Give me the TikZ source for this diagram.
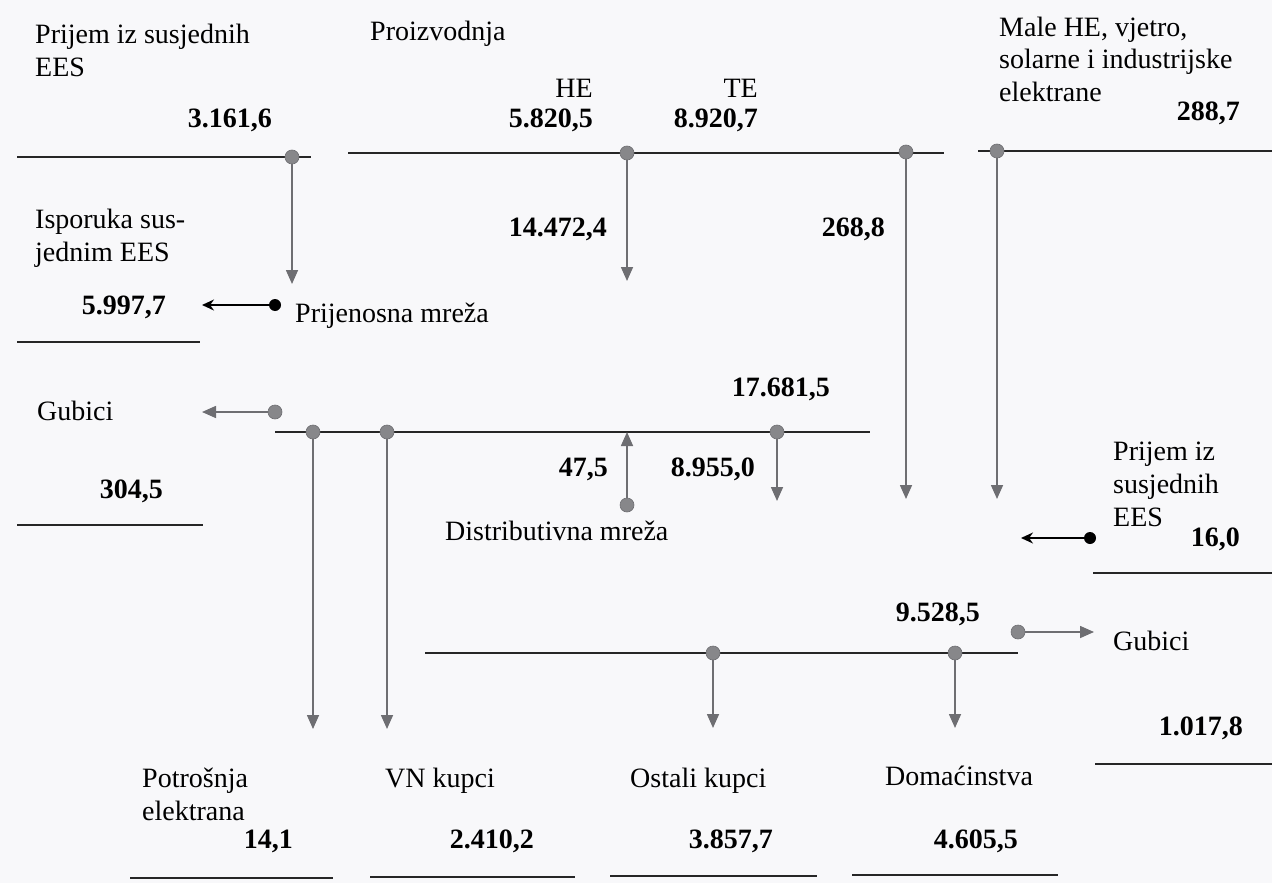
\documentclass[tikz,border=0pt]{standalone}
\usepackage{fontspec}
\setmainfont{Liberation Serif}
\usetikzlibrary{arrows.meta}
\newcommand\txtsz{\fontsize{28}{33}\selectfont}
\definecolor{flowgray}{RGB}{110,110,114}
\definecolor{dotgray}{RGB}{135,135,138}
\definecolor{paper}{RGB}{248,248,250}
\begin{document}
\begin{tikzpicture}[x=1pt,y=-1pt,
  bus/.style={draw=black!85, line width=1.8pt},
  flow/.style={draw=flowgray, line width=1.6pt, -{Triangle[width=12pt,length=14pt]}},
  blk/.style={draw=black, line width=1.6pt, -{Stealth[width=11pt,length=12pt]}},
  gdot/.style={circle, fill=dotgray, draw=flowgray, line width=0.6pt, minimum size=14pt, inner sep=0pt},
  bdot/.style={circle, fill=black, minimum size=12pt, inner sep=0pt},
  lbl/.style={anchor=base west, align=left, inner sep=0pt, font=\txtsz},
  num/.style={anchor=base east, inner sep=0pt, font=\txtsz\bfseries}]
\fill[paper] (0,0) rectangle (1272,883);
\useasboundingbox (0,0) rectangle (1272,883);

% ---------- bus lines ----------
\coordinate (l1a) at (17,157);  \coordinate (l1b) at (311,157);
\coordinate (l2a) at (348,153); \coordinate (l2b) at (944,153);
\coordinate (l3a) at (978,151); \coordinate (l3b) at (1272,151);
\coordinate (l4a) at (275,432); \coordinate (l4b) at (870,432);
\coordinate (l5a) at (425,653); \coordinate (l5b) at (1018,653);
\draw[bus] (l1a) -- (l1b);
\draw[bus] (l2a) -- (l2b);
\draw[bus] (l3a) -- (l3b);
\draw[bus] (l4a) -- (l4b);
\draw[bus] (l5a) -- (l5b);

% ---------- underlines ----------
\coordinate (u1a) at (17,342);   \coordinate (u1b) at (200,342);
\coordinate (u2a) at (17,525);   \coordinate (u2b) at (203,525);
\coordinate (u3a) at (1093,573); \coordinate (u3b) at (1272,573);
\coordinate (u4a) at (1095,764); \coordinate (u4b) at (1272,764);
\coordinate (u5a) at (130,878);  \coordinate (u5b) at (333,878);
\coordinate (u6a) at (370,877);  \coordinate (u6b) at (575,877);
\coordinate (u7a) at (610,876);  \coordinate (u7b) at (817,876);
\coordinate (u8a) at (852,875);  \coordinate (u8b) at (1058,875);
\foreach \u in {1,...,8} {\draw[bus] (u\u a) -- (u\u b);}

% ---------- dots ----------
\node[gdot] (d1)  at (292,157) {};
\node[gdot] (d2)  at (627,153) {};
\node[gdot] (d3)  at (906,152) {};
\node[gdot] (d4)  at (997,151) {};
\node[gdot] (d5)  at (275,412) {};
\node[gdot] (d6)  at (313,432) {};
\node[gdot] (d7)  at (387,432) {};
\node[gdot] (d8)  at (777,432) {};
\node[gdot] (d9)  at (627,505) {};
\node[gdot] (d10) at (713,653) {};
\node[gdot] (d11) at (955,653) {};
\node[gdot] (d12) at (1018,632) {};
\node[bdot] (b1)  at (275,305) {};
\node[bdot] (b2)  at (1090,538) {};

% ---------- arrow ends ----------
\coordinate (t1)  at (292,284);
\coordinate (t2)  at (627,281);
\coordinate (t3)  at (906,499);
\coordinate (t4)  at (997,499);
\coordinate (t5)  at (202,412);
\coordinate (t6)  at (313,729);
\coordinate (t7)  at (387,729);
\coordinate (t8)  at (777,501);
\coordinate (t9)  at (627,432);
\coordinate (t10) at (713,728);
\coordinate (t11) at (955,728);
\coordinate (t12) at (1094,632);
\coordinate (tb1) at (202,305);
\coordinate (tb2) at (1021,538);

\draw[flow] (d1) -- (t1);
\draw[flow] (d2) -- (t2);
\draw[flow] (d3) -- (t3);
\draw[flow] (d4) -- (t4);
\draw[flow] (d5) -- (t5);
\draw[flow] (d6) -- (t6);
\draw[flow] (d7) -- (t7);
\draw[flow] (d8) -- (t8);
\draw[flow] (d9) -- (t9);
\draw[flow] (d10) -- (t10);
\draw[flow] (d11) -- (t11);
\draw[flow] (d12) -- (t12);
\draw[blk] (b1) -- (tb1);
\draw[blk] (b2) -- (tb2);

% ---------- texts (multi-line labels: base = last line) ----------
\node[lbl] (prijem1) at (35,77) {Prijem iz susjednih\\EES};
\node[num] (v3161) at (272,127) {3.161,6};
\node[lbl] (proiz) at (370,41) {Proizvodnja};
\node[anchor=base east, inner sep=0pt, font=\txtsz] (he) at (593,97) {HE};
\node[num] (v5820) at (593,128) {5.820,5};
\node[anchor=base east, inner sep=0pt, font=\txtsz] (te) at (758,97) {TE};
\node[num] (v8920) at (758,128) {8.920,7};
\node[lbl] (male) at (999,102) {Male HE, vjetro,\\solarne i industrijske\\elektrane};
\node[num] (v2887) at (1240,120) {288,7};
\node[lbl] (ispor) at (35,261) {Isporuka sus-\\jednim EES};
\node[num] (v5997) at (166,314) {5.997,7};
\node[lbl] (prijen) at (295,322) {Prijenosna mreža};
\node[num] (v14472) at (607,236) {14.472,4};
\node[num] (v2688) at (885,236) {268,8};
\node[lbl] (gub1) at (37,420) {Gubici};
\node[num] (v3045) at (163,498) {304,5};
\node[num] (v17681) at (830,396) {17.681,5};
\node[num] (v475) at (608,476) {47,5};
\node[num] (v8955) at (755,476) {8.955,0};
\node[lbl] (distr) at (445,540) {Distributivna mreža};
\node[lbl] (prijem2) at (1113,526) {Prijem iz\\susjednih\\EES};
\node[num] (v160) at (1240,546) {16,0};
\node[num] (v9528) at (980,621) {9.528,5};
\node[lbl] (gub2) at (1113,650) {Gubici};
\node[num] (v1017) at (1243,735) {1.017,8};
\node[lbl] (potr) at (142,820) {Potrošnja\\elektrana};
\node[num] (v141) at (293,848) {14,1};
\node[lbl] (vn) at (385,787) {VN kupci};
\node[num] (v2410) at (534,848) {2.410,2};
\node[lbl] (ostali) at (630,787) {Ostali kupci};
\node[num] (v3857) at (773,848) {3.857,7};
\node[lbl] (domac) at (885,785) {Domaćinstva};
\node[num] (v4605) at (1018,848) {4.605,5};
\end{tikzpicture}
\end{document}
